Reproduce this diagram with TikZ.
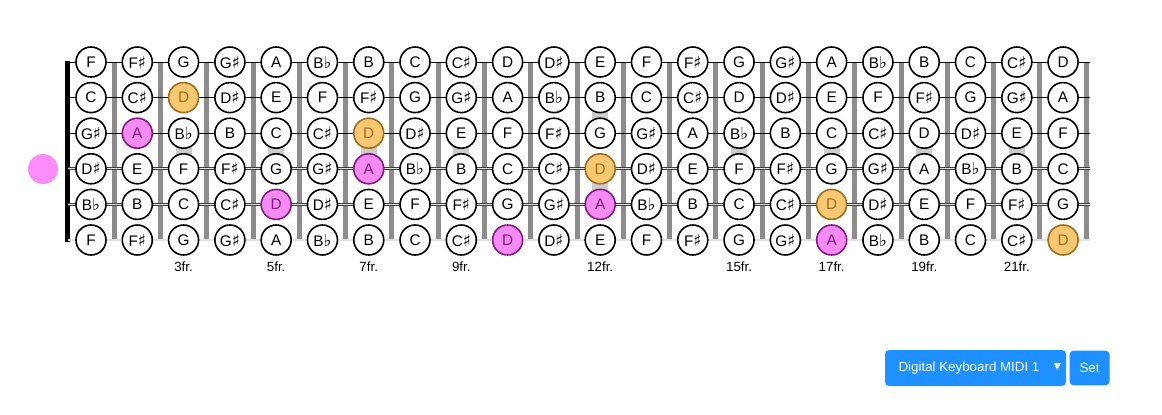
\documentclass[tikz,border=0pt]{standalone}
\usepackage{fontspec}
\setmainfont{Liberation Sans}
\newfontfamily\symfont{DejaVu Sans}
\usepackage{xcolor}

\definecolor{fretgray}{HTML}{8C8C8C}
\definecolor{inlaygray}{HTML}{CCCCCC}
\definecolor{pinkfill}{HTML}{F78BF5}
\definecolor{pinkline}{HTML}{841884}
\definecolor{orangefill}{HTML}{F8C872}
\definecolor{orangeline}{HTML}{A06E1E}
\definecolor{dotpink}{HTML}{FC8CF8}
\definecolor{btnblue}{HTML}{1E90FF}

\newcommand\sharpsym{{\symfont\fontsize{12.5}{13}\selectfont ♯}}
\newcommand\flatsym{{\symfont\fontsize{12.5}{13}\selectfont ♭}}
\newcommand\notename[1]{\ifcase#1\relax C\or C\sharpsym\or D\or D\sharpsym\or E\or F\or F\sharpsym\or G\or G\sharpsym\or A\or B\flatsym\or B\fi}

% string / fret of the marked notes
\newcommand\hilite[3]{\expandafter\gdef\csname hl-#1-#2\endcsname{#3}}
\hilite{2}{2}{rootnote}
\hilite{3}{1}{fifthnote}
\hilite{3}{6}{rootnote}
\hilite{4}{6}{fifthnote}
\hilite{4}{11}{rootnote}
\hilite{5}{4}{fifthnote}
\hilite{5}{11}{fifthnote}
\hilite{5}{16}{rootnote}
\hilite{6}{9}{fifthnote}
\hilite{6}{16}{fifthnote}
\hilite{6}{21}{rootnote}

\tikzset{
    note/.style={circle, draw=black, line width=1.2pt, fill=white, minimum size=22.5pt, inner sep=0pt,
        font=\fontsize{11.5}{13}\selectfont},
    fifthnote/.style={note, fill=pinkfill, draw=pinkline, text=pinkline},
    rootnote/.style={note, fill=orangefill, draw=orangeline, text=orangeline},
    plainstring/.style={black, line width=0.75pt},
    woundstring/.style={draw=black!75, line width=0.6pt, double=black!12, double distance=0.9pt},
    fretbar/.style={fretgray, line width=3.75pt},
    inlay/.style={inlaygray},
    fretlabel/.style={font=\fontsize{10}{12}\selectfont},
    btn/.style={fill=btnblue, rounded corners=3pt, text=white, font=\fontsize{10}{12}\selectfont}
}

\begin{document}
\begin{tikzpicture}[x=0.75pt, y=-0.75pt]
    \useasboundingbox (0,0) rectangle (1162,414);

    % inlays
    \foreach \f in {3,5,7,9,15,17,19,21}
        \fill[inlay] ({91+46.29*(\f-1)-8},147) rectangle ++(16,8);
    \fill[inlay] ({91+46.29*11-8},111) rectangle ++(16,8);
    \fill[inlay] ({91+46.29*11-8},183) rectangle ++(16,8);

    % frets
    \foreach \k in {1,...,22}
        \draw[fretbar] ({91+46.29*(\k-0.5)},62) -- ({91+46.29*(\k-0.5)},240);

    % nut
    \draw[line width=3.75pt] (67,61) -- (67,242);

    % strings
    \foreach \r in {1,...,6} {
        \coordinate (sl\r) at (68,{62+35.6*(\r-1)});
        \coordinate (sr\r) at (1090,{62+35.6*(\r-1)});
    }
    \foreach \r in {1,2,3}
        \draw[plainstring] (sl\r) -- (sr\r);
    \foreach \r in {4,5,6}
        \draw[woundstring] (sl\r) -- (sr\r);

    % notes
    \foreach \r/\o in {1/5,2/0,3/8,4/3,5/10,6/5}
        \foreach \f in {0,...,21} {
            \pgfmathtruncatemacro\n{mod(\o+\f,12)}
            \ifcsname hl-\r-\f\endcsname
                \edef\sty{\csname hl-\r-\f\endcsname}
            \else
                \def\sty{note}
            \fi
            \node[\sty] (n\r-\f) at ({91+46.29*\f},{62+35.6*(\r-1)}) {\notename{\n}};
        }

    % fret numbers
    \foreach \f in {3,5,7,9,12,15,17,19,21}
        \node[fretlabel] (fl\f) at ({91+46.29*(\f-1)},267) {\f fr.};

    \node[circle, fill=dotpink, minimum size=22.5pt, inner sep=0pt] (playdot) at (43,169) {};

    % midi controls
    \node[btn, minimum width=135.75pt, minimum height=27pt] (midisel) at (975.5,368) {};
    \node[text=white, font=\fontsize{10}{12}\selectfont] (miditext) at (969,368) {Digital Keyboard MIDI 1};
    \node[text=white, font=\symfont\fontsize{7}{8}\selectfont] (midiarrow) at (1057.5,367) {▼};
    \node[btn, minimum width=30pt, minimum height=26pt] (setbtn) at (1089.5,368) {Set};
\end{tikzpicture}
\end{document}
